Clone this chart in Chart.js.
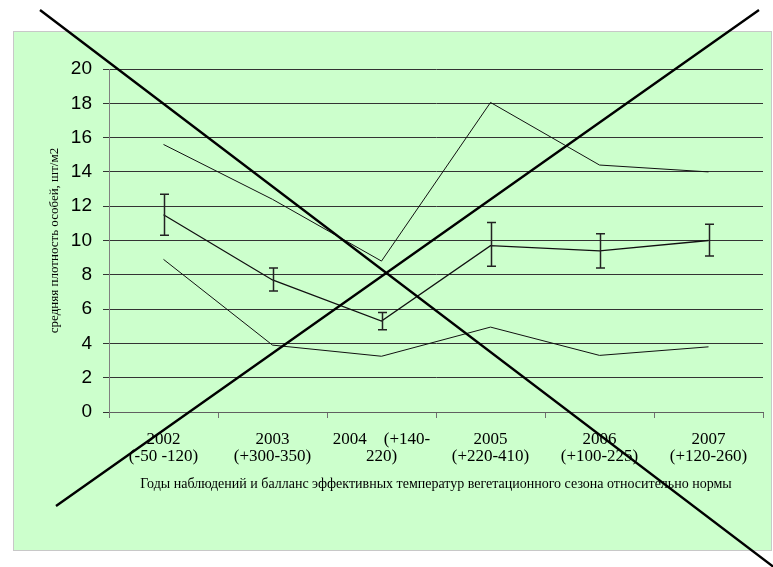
<!DOCTYPE html>
<html>
<head>
<meta charset="utf-8">
<script src="https://cdn.jsdelivr.net/npm/chart.js@4/dist/chart.umd.min.js"></script>
<style>
    body { margin: 0; background: #fff; }
    canvas { display: block; }
</style>
</head>
<body>
<canvas id="densityChart" width="773" height="567"></canvas>
<script>
    // Data
    const yearLabels = [
        ['2002', '(-50 -120)'],
        ['2003', '(+300-350)'],
        ['2004    (+140-', '220)'],
        ['2005', '(+220-410)'],
        ['2006', '(+100-225)'],
        ['2007', '(+120-260)']
    ];
    const upperDensity = [15.6, 12.4, 8.8, 18.05, 14.4, 14.0];
    const meanDensity = [11.5, 7.7, 5.3, 9.7, 9.4, 10.0];
    const errorLow = [10.3, 7.05, 4.8, 8.5, 8.4, 9.1];
    const errorHigh = [12.7, 8.4, 5.8, 11.05, 10.4, 10.95];
    const lowerDensity = [8.9, 3.9, 3.25, 4.95, 3.3, 3.8];
    const yTicks = [0, 2, 4, 6, 8, 10, 12, 14, 16, 18, 20];

    const yTitle = 'средняя плотность особей, шт/м2';
    const xTitle = 'Годы наблюдений и балланс эффективных температур вегетационного сезона относительно нормы';

    // Green panel behind the chart
    const panelPlugin = {
        id: 'panel',
        beforeDraw(chart) {
            const c = chart.ctx;
            c.save();
            c.fillStyle = '#ffffff';
            c.fillRect(0, 0, chart.width, chart.height);
            c.fillStyle = '#ccffcc';
            c.fillRect(13, 31, 758, 520);
            c.strokeStyle = '#c8c8c8';
            c.lineWidth = 1;
            c.strokeRect(13.5, 31.5, 758, 519);
            c.restore();
        }
    };

    // Error bars on the mean line
    const errorBarPlugin = {
        id: 'errorBars',
        afterDatasetsDraw(chart) {
            const c = chart.ctx;
            const x = chart.scales.x;
            const y = chart.scales.y;
            c.save();
            c.strokeStyle = '#222';
            c.lineWidth = 1.5;
            errorLow.forEach((lo, i) => {
                const px = Math.round(x.getPixelForValue(i)) + 0.5;
                const top = y.getPixelForValue(errorHigh[i]);
                const bottom = y.getPixelForValue(lo);
                c.beginPath();
                c.moveTo(px, top);
                c.lineTo(px, bottom);
                c.moveTo(px - 4.5, top);
                c.lineTo(px + 4.5, top);
                c.moveTo(px - 4.5, bottom);
                c.lineTo(px + 4.5, bottom);
                c.stroke();
            });
            c.restore();
        }
    };

    // The big cross drawn over the whole picture
    const crossPlugin = {
        id: 'cross',
        afterDraw(chart) {
            const c = chart.ctx;
            c.save();
            c.strokeStyle = '#000';
            c.lineWidth = 2.4;
            c.beginPath();
            c.moveTo(40, 10);
            c.lineTo(775, 568);
            c.moveTo(56, 506);
            c.lineTo(759, 10);
            c.stroke();
            c.restore();
        }
    };

    const ctx = document.getElementById('densityChart').getContext('2d');

    const chart = new Chart(ctx, {
        type: 'line',
        data: {
            labels: yearLabels,
            datasets: [
                { data: upperDensity, borderColor: '#111', borderWidth: 1, pointRadius: 0, tension: 0 },
                { data: meanDensity, borderColor: '#111', borderWidth: 1.3, pointRadius: 0, tension: 0 },
                { data: lowerDensity, borderColor: '#111', borderWidth: 1, pointRadius: 0, tension: 0 }
            ]
        },
        options: {
            responsive: false,
            animation: false,
            devicePixelRatio: 1,
            layout: { padding: { top: 69, right: 10, left: 0, bottom: 0 } },
            plugins: {
                legend: { display: false },
                tooltip: { enabled: false }
            },
            scales: {
                x: {
                    offset: true,
                    afterFit(scale) { scale.height = 155; },
                    grid: {
                        offset: true,
                        drawOnChartArea: false,
                        drawTicks: true,
                        tickLength: 6,
                        color: '#707070'
                    },
                    border: { display: true, color: '#606060', width: 1 },
                    ticks: {
                        autoSkip: false,
                        maxRotation: 0,
                        padding: 13,
                        color: '#000',
                        font: { family: 'Liberation Serif', size: 17, lineHeight: 1.0 }
                    },
                    title: {
                        display: true,
                        text: xTitle,
                        color: '#000',
                        font: { family: 'Liberation Serif', size: 14 },
                        padding: { top: 0, bottom: 74 }
                    }
                },
                y: {
                    min: 0,
                    max: 20,
                    afterFit(scale) { scale.width = 109; },
                    afterBuildTicks(scale) { scale.ticks = yTicks.map(v => ({ value: v })); },
                    grid: { color: '#333', lineWidth: 1, tickLength: 6 },
                    border: { display: true, color: '#808080', width: 1 },
                    ticks: {
                        padding: 11,
                        color: '#000',
                        font: { family: 'Liberation Sans', size: 19 }
                    },
                    title: {
                        display: true,
                        text: yTitle,
                        color: '#000',
                        font: { family: 'Liberation Serif', size: 13 },
                        padding: { top: 47, bottom: 0 }
                    }
                }
            }
        },
        plugins: [panelPlugin, errorBarPlugin, crossPlugin]
    });
</script>
</body>
</html>
